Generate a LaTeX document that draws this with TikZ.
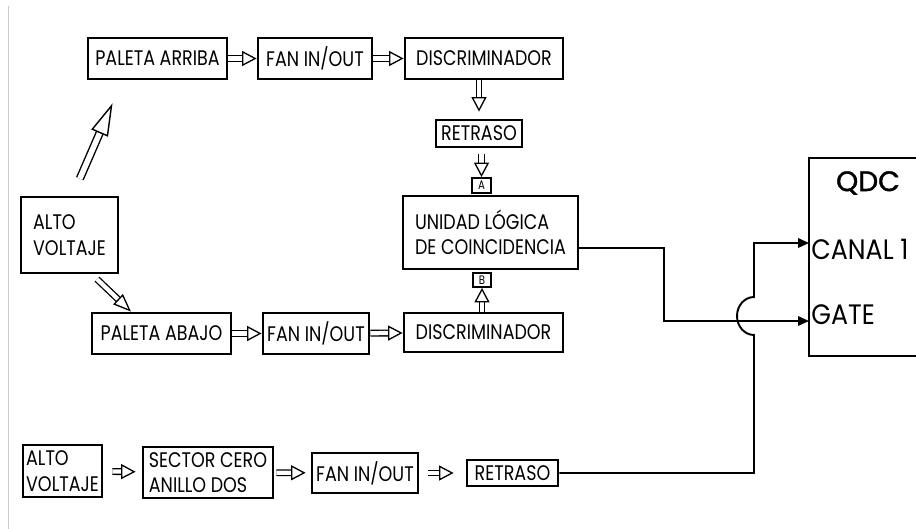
\documentclass[tikz,border=0pt]{standalone}
\usepackage{fontspec}
\setmainfont{Poppins}[FakeStretch=0.83]
\newfontfamily\qdcfont{Poppins}[FakeStretch=0.9]
\newfontfamily\qdcboldfont{Poppins}[FakeBold=1.3]
\usetikzlibrary{arrows.meta, positioning}
\tikzset{
	block/.style={draw, line width=1.6pt, inner sep=1pt, align=left,
		font=\fontsize{12}{14.5}\selectfont}, % every module of the chain
	tag/.style={draw, line width=1pt, inner sep=0pt, font=\fontsize{7}{7}\selectfont}, % input letters of the coincidence unit
	hollow/.style={double, line width=0.75pt, double distance=0.85mm,
		-{Triangle[open, length=2.9mm, width=3mm, line width=0.75pt]}}, % outlined arrow between modules
	big hollow/.style={double, line width=0.8pt, double distance=1.1mm,
		-{Triangle[open, length=6.5mm, width=3.6mm, line width=0.8pt]}},
	wire/.style={line width=1.1pt},
	signal/.style={wire, -{Triangle[length=2.2mm, width=1.9mm]}}, % cable into the QDC
	big/.style={font=\qdcfont\fontsize{16}{18}\selectfont, inner sep=0pt},
}

\begin{document}
\begin{tikzpicture}[x=0.2mm, y=-0.2mm]
	\useasboundingbox (0,0) rectangle (916,529);
	\draw[black!20, line width=0.5pt] (8,6) -- (8,529);

	% upper paddle
	\node[block, minimum width=27.8mm, minimum height=8.2mm] (pa) at (157.5,58.5) {PALETA ARRIBA};
	\node[block, minimum width=22.8mm, minimum height=8.2mm] (fa) at (315,58.5) {FAN IN/OUT};
	\node[block, minimum width=31.6mm, minimum height=8.2mm] (da) at (484,58.5) {DISCRIMINADOR};
	\node[block, minimum width=17.2mm, minimum height=5.4mm] (ra) at (479,133.5) {RETRASO};
	\node[tag, minimum width=3.8mm, minimum height=3mm] (A) at (481.5,185.5) {A};

	% coincidence
	\node[block, minimum width=35mm, minimum height=14.6mm] (ul) at (490.5,232.5) {UNIDAD LÓGICA\\DE COINCIDENCIA};
	\node[tag, minimum width=3.6mm, minimum height=2.8mm] (B) at (482,280) {B};

	% lower paddle
	\node[block, minimum width=19.4mm, minimum height=15.2mm] (av) at (69.5,235) {ALTO\\VOLTAJE};
	\node[block, minimum width=27.8mm, minimum height=8.2mm] (pb) at (161.5,333.5) {PALETA ABAJO};
	\node[block, minimum width=21.2mm, minimum height=8.2mm] (fb) at (316,333.5) {FAN IN/OUT};
	\node[block, minimum width=31.8mm, minimum height=7.8mm] (db) at (483.5,332.5) {DISCRIMINADOR};

	% ring detector
	\node[block, minimum width=15.8mm, minimum height=10.4mm] (av2) at (62.5,471) {ALTO\\VOLTAJE};
	\node[block, minimum width=26mm, minimum height=10.2mm] (sc) at (208,472.5) {SECTOR CERO\\ANILLO DOS};
	\node[block, minimum width=21.2mm, minimum height=8mm] (fc) at (365,473) {FAN IN/OUT};
	\node[block, minimum width=18.2mm, minimum height=5.2mm] (rc) at (512.5,473) {RETRASO};

	% QDC
	\node[draw, line width=1.6pt, minimum width=24.2mm, minimum height=39.6mm] (qdc) at (869.5,257) {};
	\node[big, font=\qdcboldfont\fontsize{16}{18}\selectfont] (qdcname) at (868,183) {QDC};
	\node[big, anchor=west] (canal) at (811,249) {CANAL 1};
	\node[big, anchor=west] (gate) at (811,315) {GATE};
	\coordinate (in1) at (809,243);
	\coordinate (in2) at (809,321);

	\draw[hollow] (pa) -- (fa);
	\draw[hollow] (fa) -- (da);
	\draw[hollow, shorten >=1.4mm] (da.south -| ra.north) -- (ra.north);
	\draw[hollow, shorten <=1.2mm] (ra.south -| A.north) -- (A.north);
	\draw[hollow] (db.north -| B.south) -- (B.south);
	\draw[big hollow, shorten <=3.7mm, shorten >=5mm] ([xshift=0.6mm]av.north) -- ([xshift=-7mm]pa.south);
	\draw[hollow, -{Triangle[open, length=3.6mm, width=2.8mm, line width=0.75pt]}, shorten <=1.4mm]
		([xshift=4.5mm]av.south) -- ([xshift=-6.1mm]pb.north);
	\draw[hollow] (pb) -- (fb);
	\draw[hollow] (fb) -- (db);
	\draw[hollow, shorten <=1.8mm, shorten >=1.2mm] (av2) -- (sc);
	\draw[hollow, shorten <=0.4mm, shorten >=1mm] (sc) -- (fc);
	\draw[hollow, shorten <=1.8mm, shorten >=2.4mm] (fc) -- (rc);

	\draw[signal] ([yshift=-3.1mm]ul.east) -- ++(85,0) |- (in2);
	\draw[signal] (rc.east) -- (754,473) -- (754,335)
		arc[start angle=270, end angle=90, x radius=3.4mm, y radius=3.8mm] |- (in1);
\end{tikzpicture}
\end{document}
